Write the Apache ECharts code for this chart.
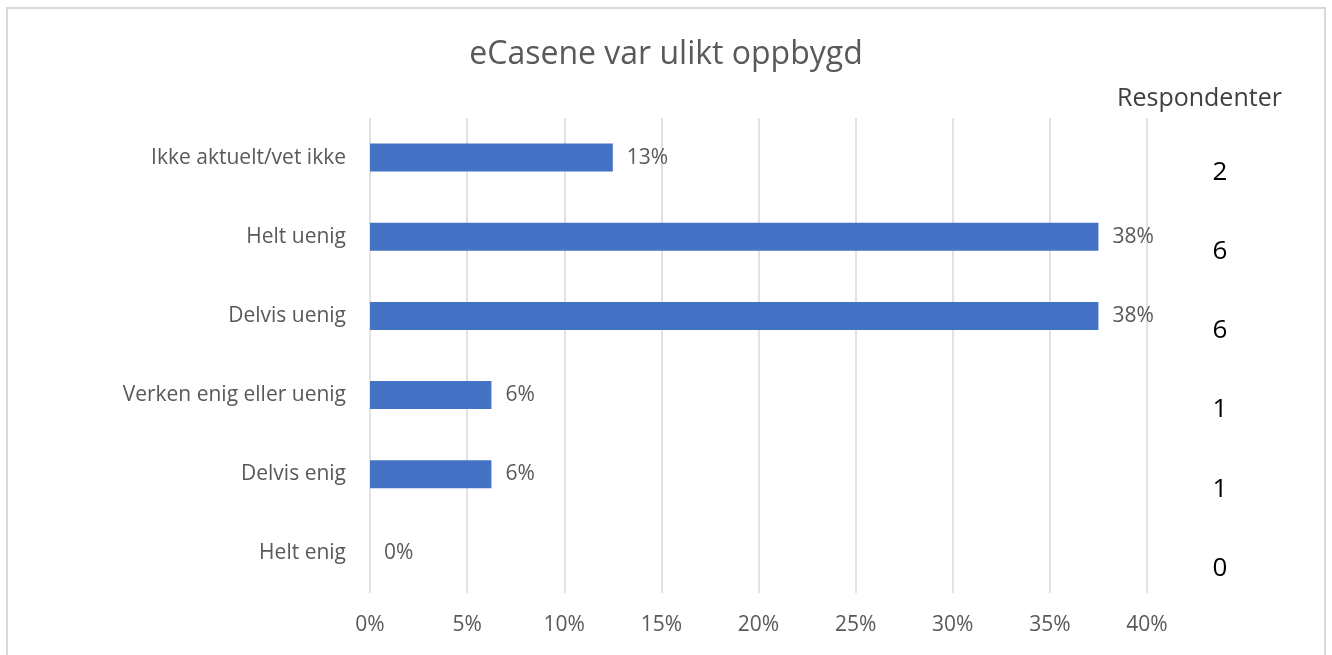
<!DOCTYPE html>
<html>
<head>
<meta charset="utf-8">
<script src="https://cdn.jsdelivr.net/npm/echarts@6/dist/echarts.min.js"></script>
<style>
  html, body { margin: 0; padding: 0; background: #fff; }
  #chart { width: 1332px; height: 655px; }
</style>
</head>
<body>
<div id="chart"></div>
<script>
// Data (bottom to top, as echarts draws categories)
const categories = ['Helt enig', 'Delvis enig', 'Verken enig eller uenig', 'Delvis uenig', 'Helt uenig', 'Ikke aktuelt/vet ikke'];
const percentValues = [0, 6.25, 6.25, 37.5, 37.5, 12.5];
const respondents = [0, 1, 1, 6, 6, 2];
const xTicks = [0, 5, 10, 15, 20, 25, 30, 35, 40];

const font = '"Open Sans", "Noto Sans", sans-serif';
const chart = echarts.init(document.getElementById('chart'));

chart.setOption({
    animation: false,
    textStyle: {fontFamily: font},
    title: [
        {
            text: 'eCasene var ulikt oppbygd',
            left: 'center',
            top: 34,
            textStyle: {fontFamily: font, fontSize: 32, fontWeight: 'normal', color: '#595959'}
        },
        {
            text: 'Respondenter',
            left: 1112,
            top: 81,
            textStyle: {fontFamily: font, fontSize: 25, fontWeight: 'normal', color: '#404040'}
        }
    ],
    graphic: [{
        type: 'rect',
        shape: {x: 7, y: 8, width: 1318, height: 660},
        style: {fill: 'none', stroke: '#d9d9d9', lineWidth: 2},
        silent: true
    }],
    grid: {left: 370, right: 185, top: 118, bottom: 62},
    xAxis: {
        type: 'value',
        min: xTicks[0],
        max: xTicks[xTicks.length - 1],
        interval: 5,
        axisLine: {show: false},
        axisTick: {show: false},
        axisLabel: {
            formatter: '{value}%',
            color: '#595959',
            fontSize: 21,
            margin: 22
        },
        splitLine: {show: true, lineStyle: {color: '#d9d9d9', width: 1.5}}
    },
    yAxis: [
        {
            type: 'category',
            data: categories,
            axisLine: {show: false},
            axisTick: {show: false},
            axisLabel: {color: '#595959', fontSize: 21, margin: 24, padding: [3, 0, 0, 0]}
        },
        {
            type: 'category',
            position: 'right',
            data: respondents.map(String),
            axisLine: {show: false},
            axisTick: {show: false},
            axisLabel: {
                color: '#000',
                fontSize: 26,
                align: 'center',
                verticalAlign: 'top',
                margin: 73,
                padding: [2, 0, 0, 0]
            }
        }
    ],
    series: [{
        type: 'bar',
        data: percentValues,
        barWidth: 28,
        itemStyle: {color: '#4472c4'},
        label: {
            show: true,
            position: 'right',
            distance: 14,
            color: '#595959',
            fontSize: 21,
            formatter: p => Math.round(p.value) + '%'
        }
    }]
});
</script>
</body>
</html>
